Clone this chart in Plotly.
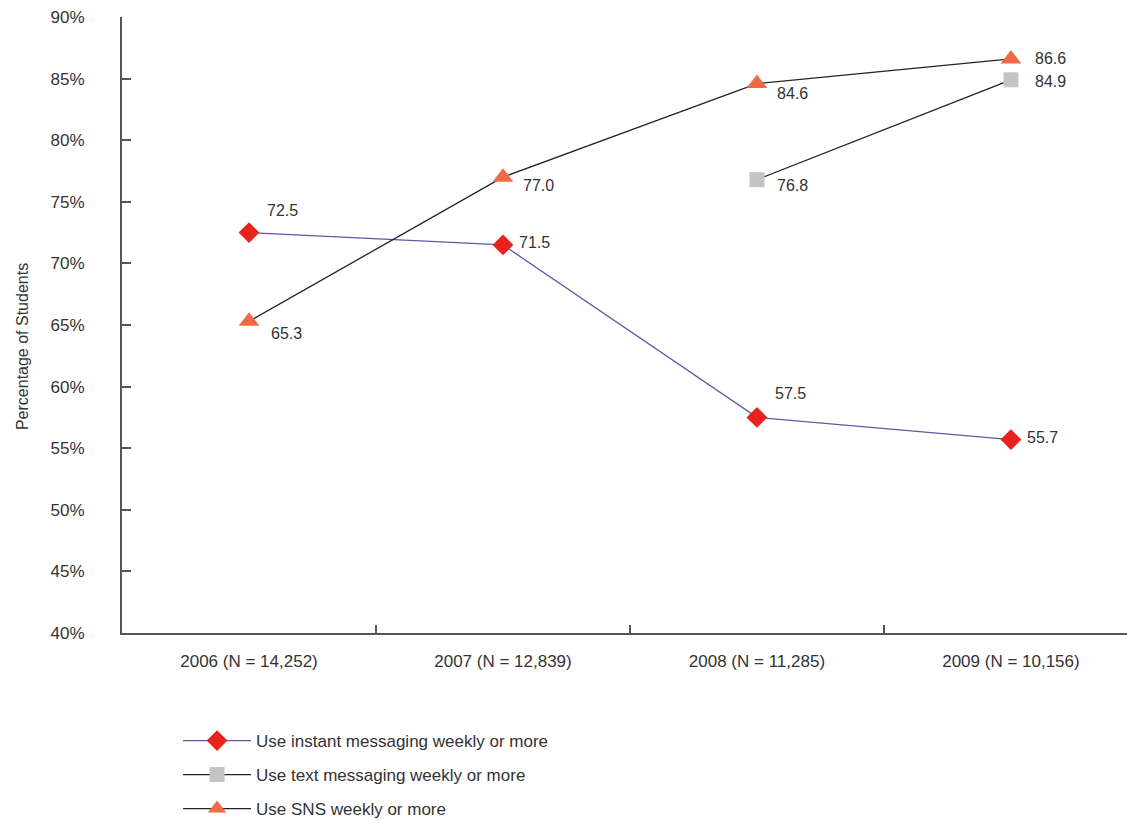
import plotly.graph_objects as go

# Survey years and sample sizes
categories = ["2006 (N = 14,252)", "2007 (N = 12,839)", "2008 (N = 11,285)", "2009 (N = 10,156)"]

# Percent of students using each service weekly or more
im_weekly = [72.5, 71.5, 57.5, 55.7]
text_weekly = [None, None, 76.8, 84.9]
sns_weekly = [65.3, 77.0, 84.6, 86.6]

series_names = [
    "Use instant messaging weekly or more",
    "Use text messaging weekly or more",
    "Use SNS weekly or more",
]

y_ticks = [40, 45, 50, 55, 60, 65, 70, 75, 80, 85, 90]
y_title = "Percentage of Students"

FONT = "Liberation Sans, Arial, sans-serif"
TXT = "#333333"

fig = go.Figure()

fig.add_trace(go.Scatter(
    x=categories, y=im_weekly, name=series_names[0], mode="lines+markers",
    line=dict(color="#5a5aa8", width=1.3),
    marker=dict(symbol="diamond", size=16, color="#e8231d"),
    legend="legend",
))
fig.add_trace(go.Scatter(
    x=categories, y=text_weekly, name=series_names[1], mode="lines+markers",
    line=dict(color="#222222", width=1.3),
    marker=dict(symbol="square", size=15, color="#c4c4c4"),
    legend="legend2",
))
fig.add_trace(go.Scatter(
    x=categories, y=sns_weekly, name=series_names[2], mode="lines+markers",
    line=dict(color="#222222", width=1.3),
    marker=dict(symbol="triangle-up", size=18, color="#f26a45"),
    legend="legend3",
))

# Value labels: pixel offsets that place each label beside its marker
label_offsets = {
    0: [(16, 22), (14, 2), (16, 24), (14, 2)],
    1: [None, None, (18, -6), (22, -2)],
    2: [(20, -12), (18, -8), (18, -10), (22, 0)],
}
all_series = [im_weekly, text_weekly, sns_weekly]
for s_idx, values in enumerate(all_series):
    for i, v in enumerate(values):
        if v is None:
            continue
        dx, dy = label_offsets[s_idx][i]
        fig.add_annotation(
            x=categories[i], y=v, text=f"{v:.1f}", showarrow=False,
            xanchor="left", yanchor="middle", xshift=dx, yshift=dy,
            font=dict(family=FONT, size=16, color=TXT),
        )

# Rotated y-axis title
fig.add_annotation(
    xref="paper", yref="paper", x=-0.099, y=0.465, text=y_title,
    textangle=-90, showarrow=False, xanchor="center", yanchor="middle",
    font=dict(family=FONT, size=16, color=TXT),
)

legend_style = dict(
    font=dict(family=FONT, size=17, color=TXT),
    bgcolor="rgba(0,0,0,0)", xanchor="left", yanchor="middle",
    xref="container", yref="container",
    itemwidth=68,
)
fig.update_layout(
    width=1127, height=820,
    margin=dict(l=122, r=0, t=17, b=187, autoexpand=False),
    paper_bgcolor="white", plot_bgcolor="white",
    font=dict(family=FONT, size=16, color=TXT),
    showlegend=True,
    legend=dict(x=0.158, y=0.0963, **legend_style),
    legend2=dict(x=0.158, y=0.0549, **legend_style),
    legend3=dict(x=0.158, y=0.0134, **legend_style),
    xaxis=dict(
        type="category", range=[-0.5, 3.457],
        showline=True, linecolor="#555555", linewidth=2,
        ticks="inside", tickson="boundaries", ticklen=8, tickcolor="#555555", tickwidth=1.5,
        showgrid=False, zeroline=False,
        tickfont=dict(family=FONT, size=17, color=TXT),
        ticklabelstandoff=12,
    ),
    yaxis=dict(
        range=[40, 90], tickvals=y_ticks, ticktext=[f"{t}%" for t in y_ticks],
        showline=True, linecolor="#555555", linewidth=2,
        ticks="inside", ticklen=9, tickcolor="#555555", tickwidth=1.5,
        showgrid=False, zeroline=False,
        tickfont=dict(family=FONT, size=17, color=TXT),
        ticklabelstandoff=32,
    ),
)

fig.write_html("out.html")
